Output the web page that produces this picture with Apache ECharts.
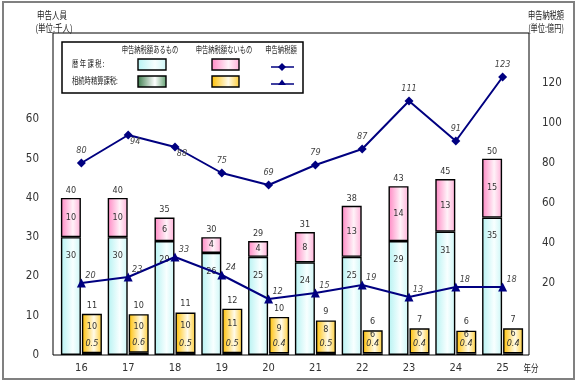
<!DOCTYPE html>
<html><head><meta charset="utf-8">
<script src="https://cdn.jsdelivr.net/npm/echarts@6/dist/echarts.min.js"></script>
<style>html,body{margin:0;padding:0;background:#fff}#c{width:580px;height:384px}</style>
</head><body><div id="c"></div>
<script>
// ---- data ----
const years = ['16','17','18','19','20','21','22','23','24','25'];
const rekiAru = [30,30,29,26,25,23.6,25,29,31.4,35];      // 暦年課税 申告納税額あるもの (千人)
const rekiNai = [10,10,6,4,4,7.7,13,14,13.4,15];           // 暦年課税 申告納税額ないもの (千人)
const seisanAru = [0.5,0.6,0.5,0.5,0.4,0.5,0.4,0.4,0.4,0.4]; // 相続時精算課税 あるもの
const seisanNai = [10.0,9.8,10.3,11.3,9.3,8.3,5.9,6.4,5.8,6.4]; // 相続時精算課税 ないもの
const rekiTax = [80,94,88,75,69,79,87,111,91,123];         // 暦年課税 申告納税額 (億円)
const seisanTax = [20,23,33,24,12,15,19,13,18,18];         // 相続時精算課税 申告納税額 (億円)
const leftTicks = [0,10,20,30,40,50,60];
const rightTicks = [20,40,60,80,100,120];

// ---- styles ----
const NUMFONT = "'Liberation Sans Narrow','DejaVu Sans Condensed','Liberation Sans',sans-serif";
const JPFONT = "'Noto Sans CJK JP',sans-serif";
const NAVY = '#000080';
function grad(c0, cm, c1) {
  return new echarts.graphic.LinearGradient(0,0,1,0,[
    {offset:0,color:c0},{offset:0.6,color:cm},{offset:1,color:c1}]);
}
const cCyan = () => grad('#b6f2f2','#f8ffff','#ccf6f6');
const cPink = () => grad('#ff88c4','#fff2f8','#ffb0d8');
const cGreen = () => grad('#3c7c4c','#ffffff','#5c9c6c');
const cYellow = () => grad('#ffbf00','#fffbea','#ffcc33');
const lbl = {fontFamily: NUMFONT, fontSize: 9, color: '#333'};
const BW = 20;
const belowIdx = [1,2];

const chart = echarts.init(document.getElementById('c'), null, {renderer:'canvas'});

function barStyle(fill){ return {color: fill, borderColor:'#000', borderWidth:1.4}; }

const option = {
  animation: false,
  backgroundColor: '#fff',
  grid: {left: 58, right: 54, top: 33, bottom: 29},
  xAxis: {
    type: 'category', data: years,
    axisLine: {show:false}, axisTick: {show:false},
    axisLabel: {fontFamily: NUMFONT, fontSize: 11, color: '#333', margin: 8}
  },
  yAxis: [
    {type:'value', min:0, max:82, splitLine:{show:false}, axisLine:{show:false}, axisTick:{show:false},
     axisLabel:{customValues: leftTicks, fontFamily: NUMFONT, fontSize: 11.5, color:'#333', margin: 19}},
    {type:'value', min:-16, max:145, splitLine:{show:false}, axisLine:{show:false}, axisTick:{show:false},
     axisLabel:{customValues: rightTicks, fontFamily: NUMFONT, fontSize: 11.5, color:'#333', margin: 16}}
  ],
  series: [
    {type:'bar', stack:'a', barWidth:BW, barGap:'5%', data: rekiAru, itemStyle: barStyle(cCyan()),
     label:{show:true, position:'insideTop', distance:14, ...lbl, formatter: p => Math.round(p.value)}},
    {type:'bar', stack:'a', barWidth:BW, data: rekiNai, itemStyle: barStyle(cPink()),
     label:{show:true, position:'inside', ...lbl, formatter: p => Math.round(p.value)}},
    {type:'bar', stack:'a', barWidth:BW, data: years.map(()=>0), itemStyle:{color:'transparent'},
     label:{show:true, position:'top', distance:3, ...lbl,
       formatter: p => Math.round(rekiAru[p.dataIndex] + rekiNai[p.dataIndex])}},
    {type:'bar', stack:'b', barWidth:BW, data: seisanAru, itemStyle: barStyle(cGreen()),
     label:{show:true, position:'top', distance:5, ...lbl, fontStyle:'italic', formatter: p => p.value.toFixed(1)}},
    {type:'bar', stack:'b', barWidth:BW, data: seisanNai, itemStyle: barStyle(cYellow()), z: 1,
     label:{show:true, position:'inside', offset:[0,-7], ...lbl, formatter: p => Math.round(p.value)}},
    {type:'bar', stack:'b', barWidth:BW, data: years.map(()=>0), itemStyle:{color:'transparent'},
     label:{show:true, position:'top', distance:4, ...lbl,
       formatter: p => Math.round(seisanAru[p.dataIndex] + seisanNai[p.dataIndex])}},
    {type:'line', yAxisIndex:1, z:5, symbol:'diamond', symbolSize:9,
     lineStyle:{color:NAVY, width:2}, itemStyle:{color:NAVY},
     data: rekiTax.map((v,i) => belowIdx.includes(i)
        ? {value:v, label:{position:'bottom', distance:0, offset:[7,-2]}}
        : v),
     label:{show:true, position:'top', distance:3, ...lbl, color:'#444', fontStyle:'italic'}},
    {type:'line', yAxisIndex:1, z:5, symbol:'triangle', symbolSize:9,
     lineStyle:{color:NAVY, width:2}, itemStyle:{color:NAVY},
     data: seisanTax,
     label:{show:true, position:'top', distance:0, offset:[9,2], ...lbl, color:'#444', fontStyle:'italic'}}
  ],
  graphic: [
    {type:'rect', z:-10, shape:{x:3,y:2,width:571,height:377}, style:{fill:'none', stroke:'#808080', lineWidth:2}},
    {type:'rect', z:10, shape:{x:53,y:33,width:476,height:322}, style:{fill:'none', stroke:'#000', lineWidth:1}},
    // axis titles
    {type:'text', x:52, y:15, scaleX:0.75, style:{text:'申告人員', font:'10px '+JPFONT, fill:'#222', textAlign:'center', textVerticalAlign:'middle'}},
    {type:'text', x:54, y:28, scaleX:0.75, style:{text:'(単位:千人)', font:'10px '+JPFONT, fill:'#222', textAlign:'center', textVerticalAlign:'middle'}},
    {type:'text', x:546, y:15, scaleX:0.72, style:{text:'申告納税額', font:'10px '+JPFONT, fill:'#222', textAlign:'center', textVerticalAlign:'middle'}},
    {type:'text', x:546, y:28, scaleX:0.72, style:{text:'(単位:億円)', font:'10px '+JPFONT, fill:'#222', textAlign:'center', textVerticalAlign:'middle'}},
    {type:'text', x:531, y:368, scaleX:0.75, style:{text:'年分', font:'10px '+JPFONT, fill:'#222', textAlign:'center', textVerticalAlign:'middle'}},
    // legend box
    {type:'rect', z:20, shape:{x:62,y:42,width:241,height:51}, style:{fill:'#fff', stroke:'#000', lineWidth:1.5}},
    {type:'text', z:21, x:150, y:50, scaleX:0.7, style:{text:'申告納税額あるもの', font:'9px '+JPFONT, fill:'#222', textAlign:'center', textVerticalAlign:'middle'}},
    {type:'text', z:21, x:224, y:50, scaleX:0.7, style:{text:'申告納税額ないもの', font:'9px '+JPFONT, fill:'#222', textAlign:'center', textVerticalAlign:'middle'}},
    {type:'text', z:21, x:281, y:50, scaleX:0.7, style:{text:'申告納税額', font:'9px '+JPFONT, fill:'#222', textAlign:'center', textVerticalAlign:'middle'}},
    {type:'text', z:21, x:72, y:64, scaleX:0.7, style:{text:'暦 年 課 税 :', font:'9px '+JPFONT, fill:'#222', textAlign:'left', textVerticalAlign:'middle'}},
    {type:'text', z:21, x:72, y:81, scaleX:0.7, style:{text:'相続時精算課税:', font:'9px '+JPFONT, fill:'#222', textAlign:'left', textVerticalAlign:'middle'}},
    {type:'rect', z:21, shape:{x:138,y:59,width:28,height:11}, style:{fill:cCyan(), stroke:'#000', lineWidth:1.4}},
    {type:'rect', z:21, shape:{x:212,y:59,width:27,height:11}, style:{fill:cPink(), stroke:'#000', lineWidth:1.4}},
    {type:'rect', z:21, shape:{x:138,y:76,width:28,height:11}, style:{fill:cGreen(), stroke:'#000', lineWidth:1.4}},
    {type:'rect', z:21, shape:{x:212,y:76,width:27,height:11}, style:{fill:cYellow(), stroke:'#000', lineWidth:1.4}},
    {type:'line', z:21, shape:{x1:271,y1:67,x2:294,y2:67}, style:{stroke:NAVY, lineWidth:1.5}},
    {type:'polygon', z:22, shape:{points:[[282,63],[286,67],[282,71],[278,67]]}, style:{fill:NAVY}},
    {type:'line', z:21, shape:{x1:271,y1:84,x2:294,y2:84}, style:{stroke:NAVY, lineWidth:1.5}},
    {type:'polygon', z:22, shape:{points:[[282,79.5],[286,85],[278,85]]}, style:{fill:NAVY}}
  ]
};
chart.setOption(option);
</script>
</body></html>
